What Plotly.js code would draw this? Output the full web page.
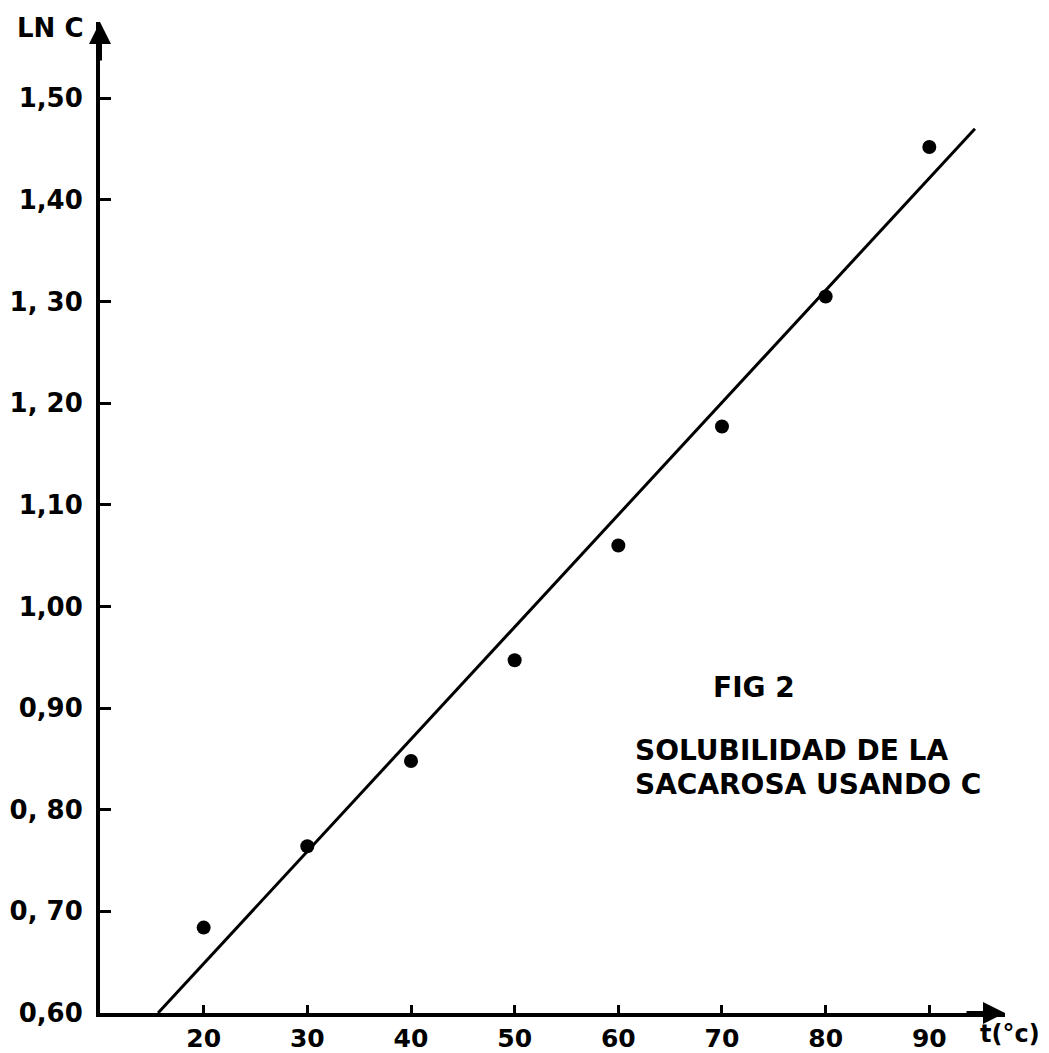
<!DOCTYPE html>
<html>
<head>
<meta charset="utf-8">
<script src="https://cdn.plot.ly/plotly-3.0.1.min.js"></script>
<style>html,body{margin:0;padding:0;background:#fff;}#chart{width:1049px;height:1053px;}</style>
</head>
<body>
<div id="chart"></div>
<script>
// Measured data points (temperature °C vs ln C)
const temperature = [20, 30, 40, 50, 60, 70, 80, 90];
const lnC = [0.684, 0.764, 0.848, 0.947, 1.060, 1.177, 1.305, 1.452];

// Hand-drawn fitted line (endpoints)
const fitT = [15.6, 94.4];
const fitLnC = [0.60, 1.47];

// Tick values and labels
const xTickVals = [20, 30, 40, 50, 60, 70, 80, 90];
const xTickText = ['20', '30', '40', '50', '60', '70', '80', '90'];
const yTickVals = [0.60, 0.70, 0.80, 0.90, 1.00, 1.10, 1.20, 1.30, 1.40, 1.50];
const yTickText = ['0,60', '0, 70', '0, 80', '0,90', '1,00', '1,10', '1, 20', '1, 30', '1,40', '1,50'];

const textFont = {family: 'DejaVu Sans', size: 28, color: '#000', weight: 'bold'};
const tickFont = {family: 'DejaVu Sans', size: 26, color: '#000', weight: 'bold'};

const traces = [
  {
    x: fitT, y: fitLnC, mode: 'lines', type: 'scatter',
    line: {color: '#000', width: 3}, hoverinfo: 'skip', cliponaxis: false
  },
  {
    x: temperature, y: lnC, mode: 'markers', type: 'scatter',
    marker: {color: '#000', size: 14}, cliponaxis: false
  }
];

const layout = {
  width: 1049, height: 1053,
  margin: {l: 100, r: 44, t: 22, b: 40},
  paper_bgcolor: '#fff', plot_bgcolor: '#fff',
  showlegend: false,
  xaxis: {
    range: [10, 97.3], showgrid: false, zeroline: false,
    showline: true, linecolor: '#000', linewidth: 4,
    ticks: 'inside', ticklen: 8, tickwidth: 3, tickcolor: '#000',
    tickvals: xTickVals, ticktext: xTickText,
    tickfont: {family: 'DejaVu Sans', size: 25, color: '#000', weight: 'bold'},
    ticklabelstandoff: 0
  },
  yaxis: {
    range: [0.60, 1.575], showgrid: false, zeroline: false,
    showline: true, linecolor: '#000', linewidth: 4,
    ticks: 'inside', ticklen: 11, tickwidth: 3, tickcolor: '#000',
    tickvals: yTickVals, ticktext: yTickText, tickfont: tickFont,
    ticklabelstandoff: 8
  },
  annotations: [
    {x: 10, y: 1.575, xref: 'x', yref: 'y', text: '', showarrow: true,
     arrowhead: 2, arrowsize: 1.1, arrowwidth: 4, arrowcolor: '#000', ax: 0, ay: 40},
    {x: 97.3, y: 0.60, xref: 'x', yref: 'y', text: '', showarrow: true,
     arrowhead: 2, arrowsize: 1.1, arrowwidth: 4, arrowcolor: '#000', ax: -40, ay: 0},
    {x: -0.055, y: 0.994, xref: 'paper', yref: 'paper', text: 'LN C', showarrow: false,
     xanchor: 'center', yanchor: 'middle', font: {family: 'DejaVu Sans', size: 26, color: '#000', weight: 'bold'}},
    {x: 1.006, y: -0.021, xref: 'paper', yref: 'paper', text: 't(°c)', showarrow: false,
     xanchor: 'center', yanchor: 'middle', font: {family: 'DejaVu Sans', size: 24, color: '#000', weight: 'bold'}},
    {x: 68.9, y: 0.92, xref: 'x', yref: 'y', text: 'FIG 2', showarrow: false,
     xanchor: 'left', yanchor: 'middle', font: textFont},
    {x: 61.4, y: 0.858, xref: 'x', yref: 'y', text: 'SOLUBILIDAD DE LA', showarrow: false,
     xanchor: 'left', yanchor: 'middle', font: textFont},
    {x: 61.4, y: 0.825, xref: 'x', yref: 'y', text: 'SACAROSA USANDO C', showarrow: false,
     xanchor: 'left', yanchor: 'middle', font: textFont}
  ]
};

Plotly.newPlot('chart', traces, layout, {displayModeBar: false, staticPlot: true});
</script>
</body>
</html>
